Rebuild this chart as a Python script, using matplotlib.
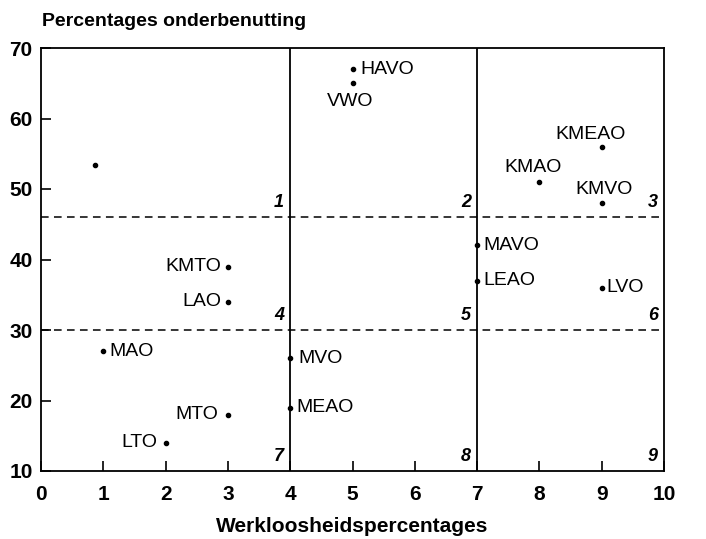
import matplotlib.pyplot as plt

plt.rcParams['font.family'] = ['Liberation Sans', 'DejaVu Sans']

# Opleidingen: werkloosheid (%) vs onderbenutting (%)
labels = ['HAVO', 'VWO', 'KMEAO', 'KMAO', 'KMVO', 'KMTO', 'LAO', 'MAVO',
          'LEAO', 'LVO', 'MAO', 'MVO', 'MEAO', 'MTO', 'LTO', '']
werkloosheid = [5, 5, 9, 8, 9, 3, 3, 7, 7, 9, 1, 4, 4, 3, 2, 0.87]
onderbenutting = [67, 65, 56, 51, 48, 39, 34, 42, 37, 36, 27, 26, 19, 18, 14, 53.4]

# label offsets in pixels (dx, dy, ha)
offsets = {
    'HAVO': (8, 0, 'left'), 'VWO': (-2, -18, 'center'),
    'KMEAO': (-11, 12, 'center'), 'KMAO': (-6, 14, 'center'),
    'KMVO': (2, 14, 'center'), 'KMTO': (-7, 0, 'right'),
    'LAO': (-7, 0, 'right'), 'MAVO': (6, 0, 'left'),
    'LEAO': (6, 0, 'left'), 'LVO': (5, 0, 'left'),
    'MAO': (6, 0, 'left'), 'MVO': (8, 0, 'left'),
    'MEAO': (6, 0, 'left'), 'MTO': (-10, 0, 'right'),
    'LTO': (-8, 0, 'right'), '': (0, 0, 'left'),
}

x_grenzen = [4, 7]
y_grenzen = [46, 30]

fig = plt.figure(figsize=(7.06, 5.39), dpi=100)
ax = fig.add_axes([41 / 706, 68 / 539, 623 / 706, 423 / 539])

ax.plot(werkloosheid, onderbenutting, 'o', color='black', markersize=3)
for lab, x, y in zip(labels, werkloosheid, onderbenutting):
    dx, dy, ha = offsets[lab]
    ax.annotate(lab, (x, y), xytext=(dx, dy), textcoords='offset pixels',
                ha=ha, va='center', fontsize=14)

for xv in x_grenzen:
    ax.axvline(xv, color='black', lw=1.3)
for yv in y_grenzen:
    ax.axhline(yv, color='black', lw=1.1, ls=(0, (5, 3.5)))

# regio nummers 1-9
kolommen = [4, 7, 10]
rijen = [46, 30, 10]
n = 1
for r in rijen:
    for k in kolommen:
        ax.annotate(str(n), (k, r), xytext=(-6, 6), textcoords='offset pixels',
                    ha='right', va='bottom', fontsize=13, style='italic',
                    fontweight='bold')
        n += 1

ax.set_xlim(0, 10)
ax.set_ylim(10, 70)
ax.set_xticks(range(0, 11))
ax.set_yticks(range(10, 71, 10))
ax.tick_params(direction='in', length=7, width=1.2, labelsize=15, color='black')
ax.tick_params(axis='x', pad=10)
ax.tick_params(axis='y', pad=6)
for t in ax.get_xticklabels() + ax.get_yticklabels():
    t.set_fontweight('bold')
for s in ax.spines.values():
    s.set_linewidth(1.3)

fig.text(42 / 706, 1 - 21 / 539, 'Percentages onderbenutting', fontsize=14,
         fontweight='bold', ha='left', va='center')
fig.text(352 / 706, 1 - 527 / 539, 'Werkloosheidspercentages', fontsize=15,
         fontweight='bold', ha='center', va='center')

fig.savefig('out.png', dpi=100, facecolor='white')
